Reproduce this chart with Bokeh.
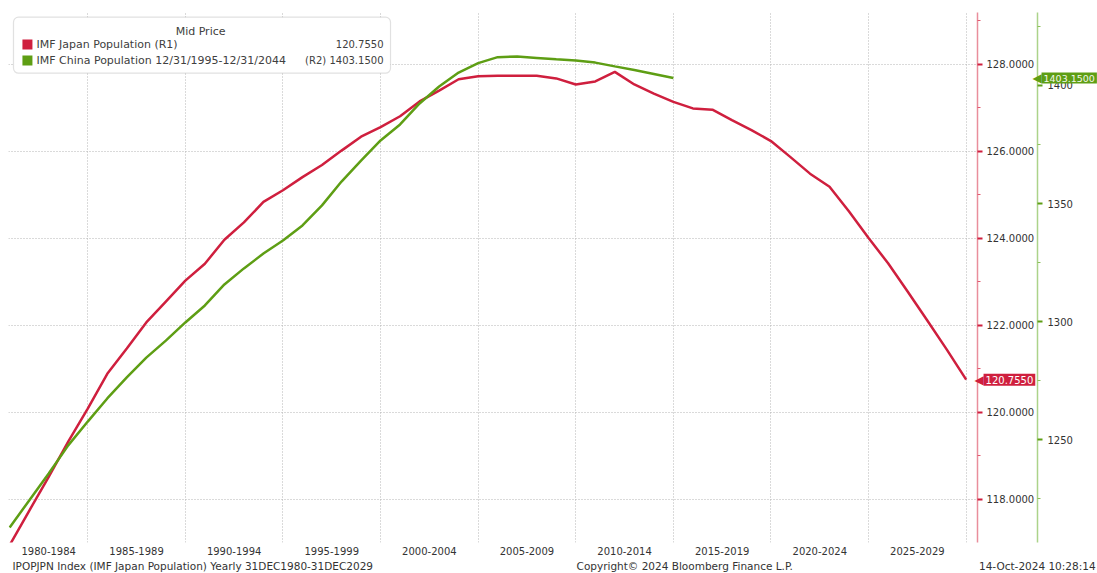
from bokeh.plotting import figure
from bokeh.models import (Range1d, LinearAxis, FixedTicker, NumeralTickFormatter,
                          BoxAnnotation, Label)
from bokeh.embed import file_html
from bokeh.resources import INLINE

# ---------------- data ----------------
japan_years = list(range(1980, 2030))
japan_pop = [116.95, 117.74, 118.52, 119.33, 120.09, 120.89, 121.47, 122.07, 122.55, 123.03,
             123.42, 123.97, 124.37, 124.84, 125.11, 125.41, 125.69, 126.02, 126.34, 126.56,
             126.81, 127.15, 127.40, 127.66, 127.73, 127.74, 127.74, 127.74, 127.68, 127.54,
             127.61, 127.83, 127.54, 127.33, 127.14, 126.99, 126.96, 126.72, 126.49, 126.24,
             125.87, 125.49, 125.19, 124.62, 124.01, 123.43, 122.78, 122.12, 121.45, 120.755]

china_years = list(range(1980, 2015))
china_pop = [1212.7, 1224.2, 1235.6, 1247.5, 1257.6, 1267.4, 1276.3, 1284.7, 1291.9, 1299.6,
             1306.8, 1315.7, 1322.5, 1328.8, 1334.3, 1340.7, 1349.2, 1359.3, 1368.2, 1376.7,
             1383.5, 1392.4, 1399.6, 1405.5, 1409.5, 1412.0, 1412.3, 1411.7, 1411.1, 1410.6,
             1409.7, 1408.1, 1406.6, 1404.9, 1403.15]

period_labels = ["1980-1984", "1985-1989", "1990-1994", "1995-1999", "2000-2004",
                 "2005-2009", "2010-2014", "2015-2019", "2020-2024", "2025-2029"]
period_centers = [1982, 1986.5, 1991.5, 1996.5, 2001.5, 2006.5, 2011.5, 2016.5, 2021.5, 2026.5]
period_bounds = [1984, 1989, 1994, 1999, 2004, 2009, 2014, 2019, 2024, 2029]

japan_ticks = [118, 120, 122, 124, 126, 128]
japan_minor = [117, 119, 121, 123, 125, 127, 129]
china_ticks = [1250, 1300, 1350, 1400]
china_minor = [1225, 1275, 1325, 1375, 1425]

japan_last = "120.7550"
china_last = "1403.1500"

# ---------------- style / layout ----------------
FONT = "DejaVu Sans"
RED = "#cf1f3e"
GREEN = "#5e9e14"
TXT = "#333333"
LEG = "#404040"

W, H = 1097, 573
FL, FT, FW, FH = 8, 12, 969, 530          # frame left/top/width/height (px)
FB = H - FT - FH                          # bottom border
XR = (1979.94, 2029.58)
YR = (117.011, 129.195)
CR = (1206.36, 1430.93)

p = figure(frame_width=FW, frame_height=FH,
           x_range=Range1d(*XR), y_range=Range1d(*YR),
           y_axis_location="right", output_backend="svg", toolbar_location=None,
           min_border_left=FL, min_border_top=FT, min_border_bottom=FB,
           min_border_right=W - FL - FW,
           background_fill_color="white", border_fill_color="white")
p.outline_line_color = None
p.extra_y_ranges = {"china": Range1d(*CR)}

# grids
p.xgrid.ticker = FixedTicker(ticks=period_bounds)
p.ygrid.ticker = FixedTicker(ticks=japan_ticks)
for g in (p.xgrid[0], p.ygrid[0]):
    g.grid_line_color = "#b5b5b5"
    g.grid_line_dash = "1 2"
    g.grid_line_width = 1

# x axis: period labels
xa = p.xaxis[0]
xa.ticker = FixedTicker(ticks=period_centers)
xa.major_label_overrides = {c: l for c, l in zip(period_centers, period_labels)}
xa.axis_line_color = None
xa.major_tick_line_color = None
xa.minor_tick_line_color = None
xa.major_label_standoff = -2
xa.major_label_text_font = FONT
xa.major_label_text_font_size = "10px"
xa.major_label_text_color = TXT

# Japan axis (R1)
ya = p.yaxis[0]
ya.ticker = FixedTicker(ticks=japan_ticks, minor_ticks=japan_minor)
ya.formatter = NumeralTickFormatter(format="0.0000")
ya.axis_line_color = "#e98e9c"
ya.axis_line_width = 1.5
ya.major_tick_line_color = RED
ya.major_tick_line_width = 2
ya.major_tick_out = 5
ya.major_tick_in = 0
ya.minor_tick_line_color = "#e05a70"
ya.minor_tick_out = 3
ya.minor_tick_in = 0
ya.major_label_standoff = 4
ya.major_label_text_font = FONT
ya.major_label_text_font_size = "10px"
ya.major_label_text_color = TXT

# China axis (R2)
ca = LinearAxis(y_range_name="china",
                ticker=FixedTicker(ticks=china_ticks, minor_ticks=china_minor),
                formatter=NumeralTickFormatter(format="0"))
ca.axis_line_color = "#acd38a"
ca.axis_line_width = 1.5
ca.major_tick_line_color = GREEN
ca.major_tick_line_width = 2
ca.major_tick_out = 5
ca.major_tick_in = 0
ca.minor_tick_line_color = "#8cc05a"
ca.minor_tick_out = 3
ca.minor_tick_in = 0
ca.major_label_standoff = 5
ca.major_label_text_font = FONT
ca.major_label_text_font_size = "10px"
ca.major_label_text_color = TXT
p.add_layout(ca, "right")

# series
p.line(japan_years, japan_pop, line_color=RED, line_width=2.5)
p.line(china_years, china_pop, line_color=GREEN, line_width=2.5, y_range_name="china")

# legend box
box = BoxAnnotation(left=1980.196, right=1999.51, top=129.087, bottom=127.80,
                    fill_color="white", fill_alpha=1.0, line_color="#9a9a9a",
                    line_width=1.2, border_radius=5, level="underlay")
p.add_layout(box)
p.scatter([1980.91, 1980.91], [128.46, 128.092], marker="square", size=10,
          fill_color=[RED, GREEN], line_color=None)

def lab(x, y, text, align="left", size="10px", color=LEG, place=None, **kw):
    l = Label(x=x, y=y, text=text, text_align=align, text_baseline="middle",
              text_font=FONT, text_font_size=size, text_color=color, **kw)
    if place is None:
        p.add_layout(l)
    else:
        p.add_layout(l, place)

lab(1989.78, 128.747, "Mid Price", align="center", size="11px")
lab(1981.37, 128.46, "IMF Japan Population  (R1)", size="11px")
lab(1999.15, 128.46, japan_last, align="right")
lab(1981.37, 128.092, "IMF China Population 12/31/1995-12/31/2044", size="11px")
lab(1999.15, 128.092, "(R2) " + china_last, align="right")

# ---- texts outside the frame (side-panel annotations, not clipped) ----
lab(2029.43, japan_pop[-1], "\u25c0", size="12px", color=RED, place="below")
lab(2029.89, japan_pop[-1], japan_last, size="10px", color="white",
    background_fill_color=RED, padding=2, place="below")
lab(2032.40, china_pop[-1], "\u25c0", size="12px", color=GREEN,
    y_range_name="china", place="below")
lab(2032.86, china_pop[-1], china_last, size="9.5px", color="#f2f7ea",
    background_fill_color=GREEN, padding=2, y_range_name="china", place="below")

FOOT_Y = 116.46
lab(1980.145, FOOT_Y, "IPOPJPN Index (IMF Japan Population)  Yearly 31DEC1980-31DEC2029",
    size="10.5px", color=TXT, place="below")
lab(2009.04, FOOT_Y, "Copyright\u00a9 2024 Bloomberg Finance L.P.", size="10.5px",
    color=TXT, place="below")
lab(2035.63, FOOT_Y, "14-Oct-2024 10:28:14", align="right", size="10.5px",
    color=TXT, place="below")

open("out.html", "w").write(file_html(p, INLINE))
